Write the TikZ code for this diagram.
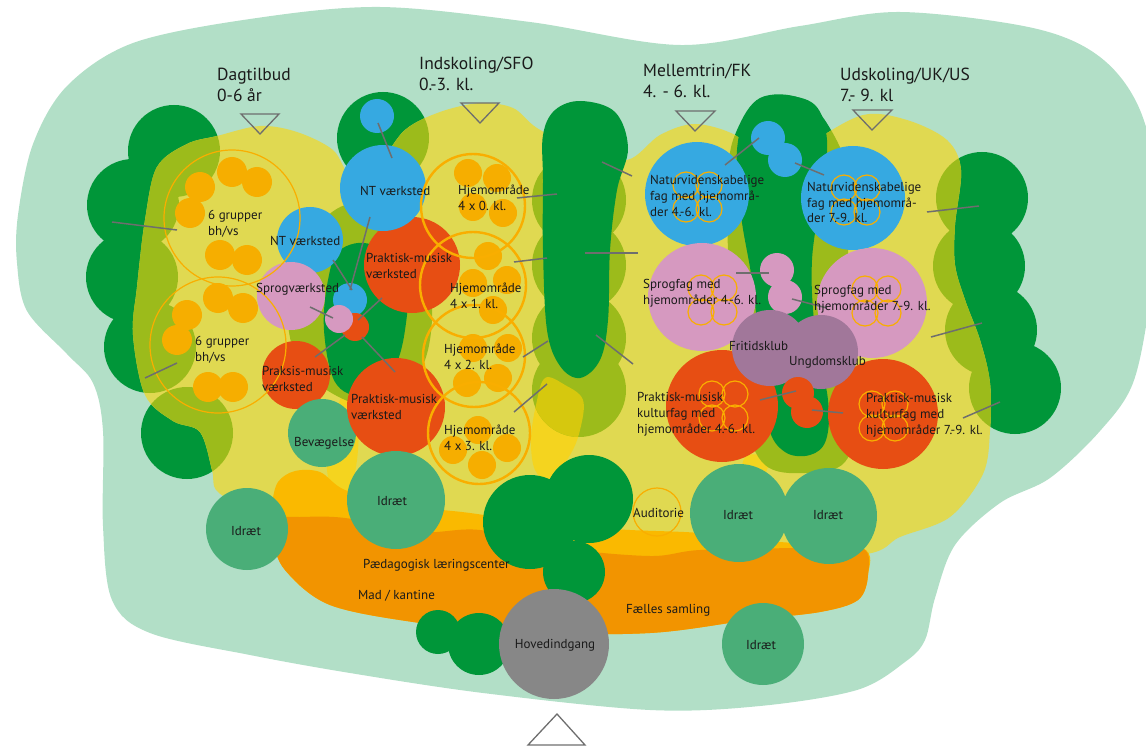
\documentclass[tikz,border=0pt]{standalone}
\usepackage{fontspec}
\setmainfont{PT Sans}
\usetikzlibrary{positioning}

\definecolor{meadow}{HTML}{B2DFC7}
\definecolor{forest}{HTML}{009639}
\definecolor{moss}{HTML}{9CBB1B}
\definecolor{sand}{HTML}{E0D951}
\definecolor{sun}{HTML}{F4D41F}
\definecolor{mustard}{HTML}{D6C80E}
\definecolor{amber}{HTML}{FAB900}
\definecolor{tangerine}{HTML}{F29400}
\definecolor{apricot}{HTML}{F6AE00}
\definecolor{ringgold}{HTML}{F9AE00}
\definecolor{sky}{HTML}{36A9E1}
\definecolor{rose}{HTML}{D699C0}
\definecolor{brick}{HTML}{E74E13}
\definecolor{plum}{HTML}{A1779A}
\definecolor{sage}{HTML}{4AAE78}
\definecolor{stone}{HTML}{878787}
\definecolor{leadgray}{HTML}{6E6E6E}
\definecolor{ink}{HTML}{1A1A1A}

% yellow school area
\newcommand\sandshape{plot[smooth cycle,tension=0.55] coordinates {
  (157,167) (187,144) (217,136) (260,126) (297,132) (333,150) (352,178)
  (378,165) (405,130) (440,112) (480,103) (513,108) (537,128) (580,150)
  (627,160) (660,135) (695,124) (735,135) (760,160) (790,172) (813,143)
  (863,115) (907,120) (947,140) (961,170) (955,225) (955,265) (965,300)
  (980,340) (990,383) (990,431) (983,474) (950,517) (900,537) (860,555)
  (700,562) (500,548) (300,515) (240,503) (216,490) (212,470) (200,432)
  (173,421) (145,395) (133,335) (137,287) (145,220)}}
% overlap of two yellow zones
\newcommand\lensshape{plot[smooth cycle,tension=0.6] coordinates {
  (545,378) (565,385) (583,400) (580,430) (570,455) (550,480) (535,470)
  (531,440) (536,405)}}
% tree rows
\newcommand\treehalos[1]{%
  \foreach \cx/\cy in {174/151,133/205,132/277,150/347,187/433,383/138,
                       982/198,979/266,991/330,1015/388}
    {\fill[#1] (\cx,\cy) circle (46pt);}
  \foreach \cy in {200,265,338,390}
    {\fill[#1] (579,\cy) circle (47pt);}
  \fill[#1] plot[smooth cycle,tension=0.6] coordinates {
    (345,205) (380,212) (420,240) (432,300) (425,360) (395,402) (350,402)
    (300,365) (288,300) (312,235)};
  \fill[#1] plot[smooth cycle,tension=0.6] coordinates {
    (737,130) (760,98) (800,98) (828,125) (850,180) (848,260) (852,340)
    (858,410) (845,462) (805,473) (765,465) (745,420) (735,340) (728,250)
    (728,170)};
}

\begin{document}
\begin{tikzpicture}[x=1pt,y=-1pt,
  lbl/.style={font=\fontsize{13}{16}\selectfont, align=left, inner sep=0pt,
              anchor=base west, text=ink},
  ctr/.style={font=\fontsize{13}{16}\selectfont, inner sep=0pt,
              anchor=base, text=ink},
  head/.style={font=\fontsize{17.5}{21.5}\selectfont, align=left, inner sep=0pt,
               anchor=base west, text=ink},
  leader/.style={draw=leadgray, line width=1.5pt},
  marker/.style={draw=leadgray, line width=1.3pt, line join=miter},
  thinring/.style={draw=ringgold, line width=1.2pt},
  homering/.style={draw=ringgold, line width=2.4pt}
]
\useasboundingbox (0,0) rectangle (1146,746);

% grounds
\fill[meadow] plot[smooth cycle,tension=0.55] coordinates {
  (250,19) (380,7) (530,22) (680,45) (800,26) (900,12) (1033,28) (1100,57)
  (1140,110) (1160,200) (1150,300) (1133,383) (1100,431) (1050,478)
  (1000,503) (955,545) (935,598) (925,640) (905,662) (857,690) (760,706)
  (650,710) (483,693) (350,673) (250,655) (150,633) (112,600) (103,526)
  (103,431) (93,383) (67,354) (27,311) (17,263) (18,215) (33,144) (67,86)
  (133,43)};
\treehalos{forest}
\fill[sand] \sandshape;
\fill[sun] \lensshape;
\fill[sun] plot[smooth cycle,tension=0.6] coordinates {
  (350,385) (358,420) (357,460) (348,500) (338,505) (327,470) (332,430) (340,400)};
\fill[sun] plot[smooth cycle,tension=0.6] coordinates {
  (748,455) (768,458) (764,475) (750,478) (742,468)};
\begin{scope}
  \clip \sandshape;
  \treehalos{moss}
\end{scope}
\begin{scope}
  \clip \lensshape;
  \fill[mustard] (579,338) circle (47pt) (579,390) circle (47pt);
\end{scope}
% tree cores
\fill[forest] plot[smooth cycle,tension=0.6] coordinates {
  (340,250) (372,245) (405,280) (405,330) (392,372) (362,395) (335,382)
  (324,330) (328,280)};
\fill[forest] plot[smooth cycle,tension=0.6] coordinates {
  (581,101) (615,112) (628,148) (617,190) (610,250) (608,320) (600,360)
  (580,378) (560,366) (547,330) (543,250) (543,180) (543,135) (555,110)};
\fill[forest] plot[smooth cycle,tension=0.6] coordinates {
  (782,96) (815,105) (827,140) (822,190) (812,260) (815,330) (828,400)
  (826,440) (810,455) (785,452) (768,425) (760,350) (752,280) (741,215)
  (737,150) (750,108)};

% common areas
\fill[amber] plot[smooth cycle,tension=0.55] coordinates {
  (272,505) (278,482) (295,471) (320,472) (345,490) (400,505) (470,513)
  (550,525) (630,530) (700,533) (780,542) (862,548) (868,575) (858,600)
  (820,612) (750,620) (650,633) (520,633) (420,623) (330,605) (285,570)
  (272,535)};
\fill[tangerine] plot[smooth cycle,tension=0.55] coordinates {
  (273,519) (300,517) (345,518) (420,532) (480,530) (560,548) (650,556)
  (700,550) (800,548) (862,548) (868,575) (858,600) (820,612) (750,620)
  (650,633) (520,633) (420,623) (330,605) (285,570) (273,540)};

% small group circles
\foreach \cx/\cy in {200/187,232/172,257/182,190/213,220/255,247/260,
                     218/298,243/308,187/315,177/340,208/387,233/387}
  {\fill[apricot] (\cx,\cy) circle (15pt);}
\foreach \cx/\cy in {468/173,497/178,473/207,503/213, 488/256,473/283,507/280,493/310,
                     473/348,508/348,467/383,498/378, 478/430,453/450,507/448,482/465}
  {\fill[apricot] (\cx,\cy) circle (14pt);}

% workshops
\fill[sky] (310,240) circle (33pt);
\fill[rose] (291,296) circle (34pt);
\fill[brick] (296,375) circle (34pt);
\fill[sage] (322,433) circle (34pt);
\fill[sky] (377,116) circle (17pt);
\fill[sky] (350,300) circle (17pt);
\fill[brick] (355,327) circle (14pt);
\fill[rose] (339,319) circle (14pt);
\fill[brick] (412,265) circle (48pt);
\fill[sky] (383,188) circle (43pt);
\fill[brick] (396,407) circle (49pt);

% subject houses
\fill[sky] (697,194) circle (52pt);
\fill[rose] (702,297) circle (54pt);
\fill[brick] (722,406) circle (56pt);
\fill[sky] (853,198) circle (52pt);
\fill[rose] (872,303) circle (55pt);
\fill[brick] (883,414) circle (55pt);
\fill[sky] (768,138) circle (17pt) (785,160) circle (17pt);
\fill[rose] (777,270) circle (17pt) (785,297) circle (17pt);
\fill[plum] (770,348) circle (38pt) (821,352) circle (37pt);
\fill[brick] (798,393) circle (16pt) (807,412) circle (16pt);

% rings
\draw[thinring] (232,218) circle (68pt) (218,345) circle (68pt) (657,512) circle (24pt);
\draw[homering] (473,206) circle (52pt) (473,285) circle (53pt)
                (474,356) circle (51pt) (479,433) circle (51pt);
\foreach \cx/\cy in {697/197,712/300,723/406,855/200,876/301,883/416}
  {\draw[thinring] (\cx-11,\cy-12) circle (13pt) (\cx+12,\cy-12) circle (13pt)
                   (\cx-11,\cy+12) circle (13pt) (\cx+12,\cy+12) circle (13pt);}

% sports, entrance and trees at the bottom
\fill[sage] (247,529) circle (41pt);
\fill[sage] (396,500) circle (49pt);
\fill[sage] (739,513) circle (49pt) (829,516) circle (48pt);
\fill[sage] (763,644) circle (41pt);
\fill[forest] (530,522) circle (47pt) (589,499) circle (44pt) (574,572) circle (31pt);
\fill[forest] (438,632) circle (22pt) (479,644) circle (31pt);
\fill[stone] (554,644) circle (55pt);

% leaders
\foreach \ax/\ay/\bx/\by in {112/222/177/230, 145/378/177/363, 310/307/333/318,
    333/260/352/290, 370/217/350/290, 382/298/358/320, 315/357/345/335,
    362/337/395/372, 378/123/392/158, 517/198/557/194, 514/262/547/258,
    523/357/548/341, 514/412/547/384, 602/162/632/176, 585/253/638/253,
    596/335/633/364, 725/165/759/138, 795/163/824/175, 736/273/769/273,
    792/299/827/308, 760/400/796/391, 812/410/843/413, 927/212/979/206,
    931/337/982/323, 963/418/1000/402}
  {\draw[leader] (\ax,\ay) -- (\bx,\by);}

% entry markers
\draw[marker] (241,114) -- (279,114) -- (260,134) -- cycle;
\draw[marker] (461,103) -- (499,103) -- (480,123) -- cycle;
\draw[marker] (676,111) -- (715,111) -- (695,131) -- cycle;
\draw[marker] (853,110) -- (892,110) -- (872,130) -- cycle;
\draw[marker] (528,745) -- (585,745) -- (557,714) -- cycle;

% headings (anchored on the last line)
\node[head] (dagtilbud) at (217,102) {Dagtilbud\\0-6 år};
\node[head] (indskoling) at (419,91) {Indskoling/SFO\\0.-3. kl.};
\node[head] (mellemtrin) at (643,98) {Mellemtrin/FK\\4. - 6. kl.};
\node[head] (udskoling) at (840,102) {Udskoling/UK/US\\7.- 9. kl};

% labels (anchored on the last line)
\node[lbl] (grp1) at (208,236) {6 grupper\\bh/vs};
\node[lbl] (grp2) at (195,361) {6 grupper\\bh/vs};
\node[lbl] (ntsmall) at (270,245) {NT værksted};
\node[lbl] (sprogv) at (256,292) {Sprogværksted};
\node[lbl] (praksis) at (262,391) {Praksis-musisk\\værksted};
\node[lbl] (bevaeg) at (294,446) {Bevægelse};
\node[lbl] (ntbig) at (360,196) {NT værksted};
\node[lbl] (pmv1) at (366,278) {Praktisk-musisk\\værksted};
\node[lbl] (pmv2) at (351,419) {Praktisk-musisk\\værksted};
\node[lbl] (hjem0) at (458,211) {Hjemområde\\4 x 0. kl.};
\node[lbl] (hjem1) at (450,308) {Hjemområde\\4 x 1. kl.};
\node[lbl] (hjem2) at (444,369) {Hjemområde\\4 x 2. kl.};
\node[lbl] (hjem3) at (444,450) {Hjemområde\\4 x 3. kl.};
\node[lbl] (nat46) at (650,217) {Naturvidenskabelige\\fag med hjemområ-\\der 4.-6. kl.};
\node[lbl] (sprog46) at (643,304) {Sprogfag med\\hjemområder 4.-6. kl.};
\node[lbl] (kult46) at (637,433) {Praktisk-musisk\\kulturfag med\\hjemområder 4.-6. kl.};
\node[lbl] (fritid) at (729,350) {Fritidsklub};
\node[lbl] (ungdom) at (789,365) {Ungdomsklub};
\node[lbl] (nat79) at (807,223) {Naturvidenskabelige\\fag med hjemområ-\\der 7.-9. kl.};
\node[lbl] (sprog79) at (814,310) {Sprogfag med\\hjemområder 7.-9. kl.};
\node[lbl] (kult79) at (866,434) {Praktisk-musisk\\kulturfag med\\hjemområder 7.-9. kl.};
\node[lbl] (paedagog) at (363,568) {Pædagogisk læringscenter};
\node[lbl] (kantine) at (358,599) {Mad / kantine};
\node[lbl] (samling) at (626,613) {Fælles samling};
\node[lbl] (auditorie) at (633,517) {Auditorie};
\node[ctr] (idraetA) at (246,535) {Idræt};
\node[ctr] (idraetB) at (392,505) {Idræt};
\node[ctr] (idraetC) at (738,519) {Idræt};
\node[ctr] (idraetD) at (828,519) {Idræt};
\node[ctr] (idraetE) at (761,649) {Idræt};
\node[ctr] (hovedind) at (555,648) {Hovedindgang};
\end{tikzpicture}
\end{document}
